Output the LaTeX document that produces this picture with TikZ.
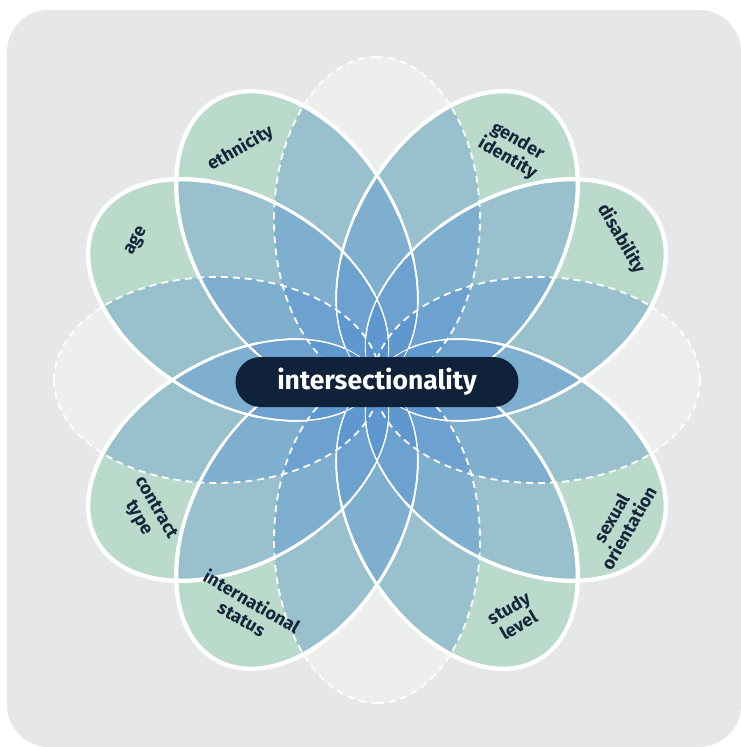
\documentclass[tikz,border=0pt]{standalone}
\usepackage{fontspec}
\setmainfont{Fira Sans}
\usetikzlibrary{positioning}

\definecolor{bggray}{RGB}{230,231,232}
\definecolor{ghost}{RGB}{237,238,238}
\definecolor{petalbase}{RGB}{231,252,202}
\definecolor{petaltint}{RGB}{58,124,210}
\definecolor{navy}{RGB}{16,33,58}
\definecolor{labelink}{RGB}{22,38,58}

\begin{document}
\begin{tikzpicture}[x=1pt, y=1pt,
    petal/.style={x radius=163pt, y radius=103pt},
    tag/.style={text=labelink, font=\fontsize{18}{20}\selectfont\bfseries, align=center, inner sep=0pt},
    hubbox/.style={fill=navy, text=white, rounded corners=25pt, minimum width=283pt, minimum height=50pt, font=\fontsize{26.5}{28}\selectfont\bfseries}]
  % frame
  \useasboundingbox (-377,-367) rectangle (364,380);
  \fill[white] (-377,-367) rectangle (364,380);
  \fill[bggray, rounded corners=42pt] (-370,-367) rectangle (364,370);

  % dashed petals
  \fill[ghost] \foreach \a in {0,90,180,270} {(\a:160pt) ellipse [petal, rotate=\a]};

  % coloured petals, darker where they overlap
  \begin{scope}
    \clip \foreach \a in {30,60,120,150,210,240,300,330} {(\a:160pt) ellipse [petal, rotate=\a]};
    \fill[petalbase] (-377,-367) rectangle (364,380);
    \foreach \a in {0,30,...,330}
      \fill[petaltint, opacity=.26] (\a:160pt) ellipse [petal, rotate=\a];
  \end{scope}

  % white rims, thinner towards the middle
  \foreach \rin/\lw in {0/0.9, 45/1.3, 85/1.8, 125/2.4, 165/3.0, 205/3.6, 260/4.2} {
    \begin{scope}[even odd rule]
      \clip (-377,-367) rectangle (364,380) (0,0) circle (\rin pt);
      \draw[white, line width=\lw pt] \foreach \a in {30,60,120,150,210,240,300,330} {(\a:160pt) ellipse [petal, rotate=\a]};
    \end{scope}
  }
  \draw[white, line width=1.8pt, dash pattern=on 7pt off 5pt] \foreach \a in {0,90,180,270} {(\a:160pt) ellipse [petal, rotate=\a]};

  % labels
  \node[tag, rotate=60] (age) at (150:278pt) {age};
  \node[tag, rotate=30] (ethnicity) at (120.5:269pt) {ethnicity};
  \node[tag, rotate=-30] (gender) at (59.5:267pt) {gender\\identity};
  \node[tag, rotate=-60] (disability) at (30:282pt) {disability};
  \node[tag, rotate=-60] (contract) at (210:266pt) {contract\\type};
  \node[tag, rotate=-30] (international) at (240.5:264pt) {international\\status};
  \node[tag, rotate=30] (study) at (300:273pt) {study\\level};
  \node[tag, rotate=60] (orientation) at (329.5:282pt) {sexual\\orientation};

  \node[hubbox] (hub) at (0,-2) {intersectionality};
\end{tikzpicture}
\end{document}
